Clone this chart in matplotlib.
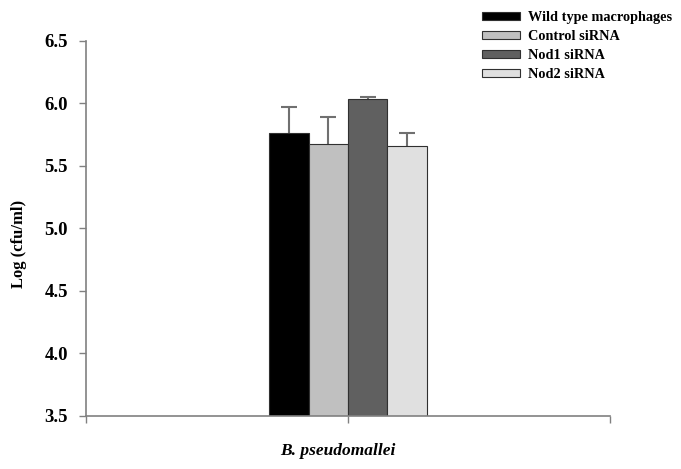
import matplotlib
matplotlib.use("Agg")
import matplotlib.pyplot as plt
from matplotlib.patches import Patch

groups = ["Wild type macrophages", "Control siRNA", "Nod1 siRNA", "Nod2 siRNA"]
values = [5.76, 5.67, 6.03, 5.66]
errors = [0.21, 0.22, 0.02, 0.10]
colors = ["#000000", "#c0c0c0", "#606060", "#e0e0e0"]
yticks = [3.5, 4.0, 4.5, 5.0, 5.5, 6.0, 6.5]

plt.rcParams['font.family'] = ['Liberation Serif', 'DejaVu Serif']

fig = plt.figure(figsize=(6.81, 4.69), dpi=100)
ax = fig.add_axes([0.1263, 0.1136, 0.7694, 0.7996])

w = 0.15
offsets = [-1.5 * w, -0.5 * w, 0.5 * w, 1.5 * w]
for i in range(4):
    ax.bar(offsets[i], values[i], width=w, color=colors[i], edgecolor="#303030",
           linewidth=0.8, zorder=2)
    eb = ax.errorbar(offsets[i], values[i], yerr=[[0], [errors[i]]], fmt="none",
                     ecolor="#707070", elinewidth=1.5, capsize=5.5, capthick=1.5, zorder=1)
    caps = eb[1]
    if len(caps) > 1:
        caps[0].set_visible(False)

ax.set_ylim(3.5, 6.5)
ax.set_xlim(-1, 1)
ax.set_yticks(yticks)
ax.set_yticklabels([f"{v:.1f}" for v in yticks], fontsize=13.5, fontweight="bold")
ax.set_xticks([-1, 0, 1])
ax.set_xticklabels(["", "", ""])
ax.tick_params(axis="y", direction="out", length=5, color="#808080", width=1, pad=8)
ax.tick_params(axis="x", direction="out", length=5, color="#808080", width=1)
for s in ["top", "right"]:
    ax.spines[s].set_visible(False)
for s in ["left", "bottom"]:
    ax.spines[s].set_color("#808080")
    ax.spines[s].set_linewidth(1.2)

ax.set_ylabel("Log (cfu/ml)", fontsize=12, fontweight="bold")
ax.yaxis.set_label_coords(-0.113, 0.458)
ax.set_xlabel("B. pseudomallei", fontsize=12.5, fontweight="bold", style="italic")
ax.xaxis.set_label_coords(0.481, -0.073)

handles = [Patch(facecolor=colors[i], edgecolor="#303030", linewidth=0.8) for i in range(4)]
fig.legend(handles, groups, loc="upper left", bbox_to_anchor=(482 / 681, 1 - 11 / 469),
           frameon=False, prop={"family": "Liberation Serif", "weight": "bold", "size": 10.3},
           handlelength=2.65, handleheight=0.55, handletextpad=0.6, labelspacing=0.42,
           borderaxespad=0, borderpad=0)

fig.savefig("out.png", dpi=100)
